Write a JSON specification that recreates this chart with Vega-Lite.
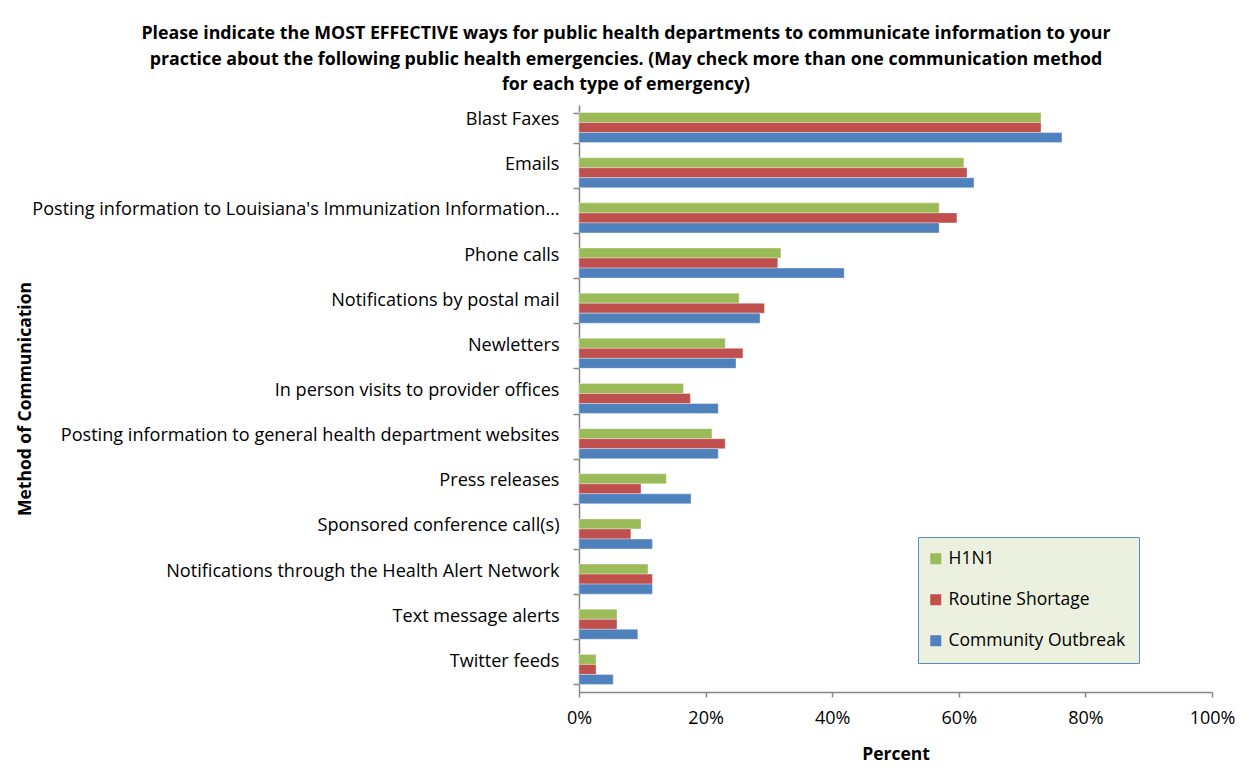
{
  "$schema": "https://vega.github.io/schema/vega-lite/v6.json",
  "width": 633,
  "height": 587,
  "autosize": {"type": "none"},
  "padding": {"left": 579, "top": 105, "right": 41, "bottom": 76},
  "background": "white",
  "title": {
    "text": [
      "Please indicate the MOST EFFECTIVE ways for public health departments to communicate information to your",
      "practice about the following public health emergencies. (May check more than one communication method",
      "for each type of emergency)"
    ],
    "frame": "group",
    "anchor": "middle",
    "dx": -269.5,
    "offset": 2,
    "font": "Open Sans",
    "fontSize": 17.8,
    "fontWeight": "bold",
    "lineHeight": 25.5,
    "color": "black"
  },
  "data": {
    "values": [
      {"method": "Blast Faxes", "type": "H1N1", "value": 73.0},
      {"method": "Blast Faxes", "type": "Routine Shortage", "value": 73.0},
      {"method": "Blast Faxes", "type": "Community Outbreak", "value": 76.3},
      {"method": "Emails", "type": "H1N1", "value": 60.8},
      {"method": "Emails", "type": "Routine Shortage", "value": 61.3},
      {"method": "Emails", "type": "Community Outbreak", "value": 62.4},
      {"method": "Posting information to Louisiana's Immunization Information…", "type": "H1N1", "value": 56.9},
      {"method": "Posting information to Louisiana's Immunization Information…", "type": "Routine Shortage", "value": 59.7},
      {"method": "Posting information to Louisiana's Immunization Information…", "type": "Community Outbreak", "value": 56.9},
      {"method": "Phone calls", "type": "H1N1", "value": 31.9},
      {"method": "Phone calls", "type": "Routine Shortage", "value": 31.4},
      {"method": "Phone calls", "type": "Community Outbreak", "value": 41.9},
      {"method": "Notifications by postal mail", "type": "H1N1", "value": 25.3},
      {"method": "Notifications by postal mail", "type": "Routine Shortage", "value": 29.3},
      {"method": "Notifications by postal mail", "type": "Community Outbreak", "value": 28.6},
      {"method": "Newletters", "type": "H1N1", "value": 23.1},
      {"method": "Newletters", "type": "Routine Shortage", "value": 25.9},
      {"method": "Newletters", "type": "Community Outbreak", "value": 24.8},
      {"method": "In person visits to provider offices", "type": "H1N1", "value": 16.5},
      {"method": "In person visits to provider offices", "type": "Routine Shortage", "value": 17.6},
      {"method": "In person visits to provider offices", "type": "Community Outbreak", "value": 22.0},
      {"method": "Posting information to general health department websites", "type": "H1N1", "value": 21.0},
      {"method": "Posting information to general health department websites", "type": "Routine Shortage", "value": 23.1},
      {"method": "Posting information to general health department websites", "type": "Community Outbreak", "value": 22.0},
      {"method": "Press releases", "type": "H1N1", "value": 13.8},
      {"method": "Press releases", "type": "Routine Shortage", "value": 9.8},
      {"method": "Press releases", "type": "Community Outbreak", "value": 17.7},
      {"method": "Sponsored conference call(s)", "type": "H1N1", "value": 9.8},
      {"method": "Sponsored conference call(s)", "type": "Routine Shortage", "value": 8.2},
      {"method": "Sponsored conference call(s)", "type": "Community Outbreak", "value": 11.6},
      {"method": "Notifications through the Health Alert Network", "type": "H1N1", "value": 10.9},
      {"method": "Notifications through the Health Alert Network", "type": "Routine Shortage", "value": 11.6},
      {"method": "Notifications through the Health Alert Network", "type": "Community Outbreak", "value": 11.6},
      {"method": "Text message alerts", "type": "H1N1", "value": 6.0},
      {"method": "Text message alerts", "type": "Routine Shortage", "value": 6.0},
      {"method": "Text message alerts", "type": "Community Outbreak", "value": 9.3},
      {"method": "Twitter feeds", "type": "H1N1", "value": 2.7},
      {"method": "Twitter feeds", "type": "Routine Shortage", "value": 2.7},
      {"method": "Twitter feeds", "type": "Community Outbreak", "value": 5.4}
    ]
  },
  "mark": {"type": "bar", "stroke": "white", "strokeOpacity": 0.35, "strokeWidth": 1},
  "encoding": {
    "y": {
      "field": "method",
      "type": "nominal",
      "sort": null,
      "scale": {"paddingInner": 0.335, "paddingOuter": 0.1675},
      "title": "Method of Communication",
      "axis": {
        "domainColor": "#868686",
        "domainWidth": 1.5,
        "tickColor": "#868686",
        "tickWidth": 1.5,
        "tickBand": "extent",
        "tickSize": 6,
        "labelPadding": 14,
        "labelFont": "Open Sans",
        "labelFontSize": 18.1,
        "labelColor": "black",
        "labelLimit": 700,
        "labelOffset": -8,
        "titleFont": "Open Sans",
        "titleFontSize": 17.5,
        "titleFontWeight": "bold",
        "titleColor": "black",
        "titleX": -554,
        "titleY": 293.5,
        "titleAngle": 270,
        "titleAlign": "center",
        "titleBaseline": "middle"
      }
    },
    "yOffset": {
      "field": "type",
      "sort": ["H1N1", "Routine Shortage", "Community Outbreak"]
    },
    "x": {
      "field": "value",
      "type": "quantitative",
      "scale": {"domain": [0, 100]},
      "title": "Percent",
      "axis": {
        "values": [0, 20, 40, 60, 80, 100],
        "labelExpr": "datum.value + '%'",
        "labelFlush": false,
        "grid": false,
        "domainColor": "#868686",
        "domainWidth": 1.5,
        "tickColor": "#868686",
        "tickWidth": 1.5,
        "tickSize": 5,
        "labelPadding": 12.5,
        "labelFont": "Open Sans",
        "labelFontSize": 18,
        "labelColor": "black",
        "titleFont": "Open Sans",
        "titleFontSize": 17.5,
        "titleFontWeight": "bold",
        "titleColor": "black",
        "titleY": 62,
        "titleBaseline": "middle"
      }
    },
    "color": {
      "field": "type",
      "type": "nominal",
      "sort": ["H1N1", "Routine Shortage", "Community Outbreak"],
      "scale": {
        "domain": ["H1N1", "Routine Shortage", "Community Outbreak"],
        "range": ["#9BBB59", "#C0504D", "#4F81BD"]
      },
      "legend": {
        "title": null,
        "orient": "none",
        "legendX": 339,
        "legendY": 432,
        "fillColor": "#EBF1DE",
        "strokeColor": "#5A8AC6",
        "padding": 13,
        "rowPadding": 22,
        "symbolType": "square",
        "symbolSize": 121,
        "symbolOffset": -4,
        "symbolStrokeWidth": 0,
        "symbolOpacity": 1,
        "labelOffset": 4,
        "labelLimit": 400,
        "labelFont": "Open Sans",
        "labelFontSize": 17.5,
        "labelColor": "black",
        "encode": {"legend": {"update": {"strokeWidth": {"value": 1.5}}}}
      }
    }
  },
  "config": {"view": {"stroke": null}}
}
